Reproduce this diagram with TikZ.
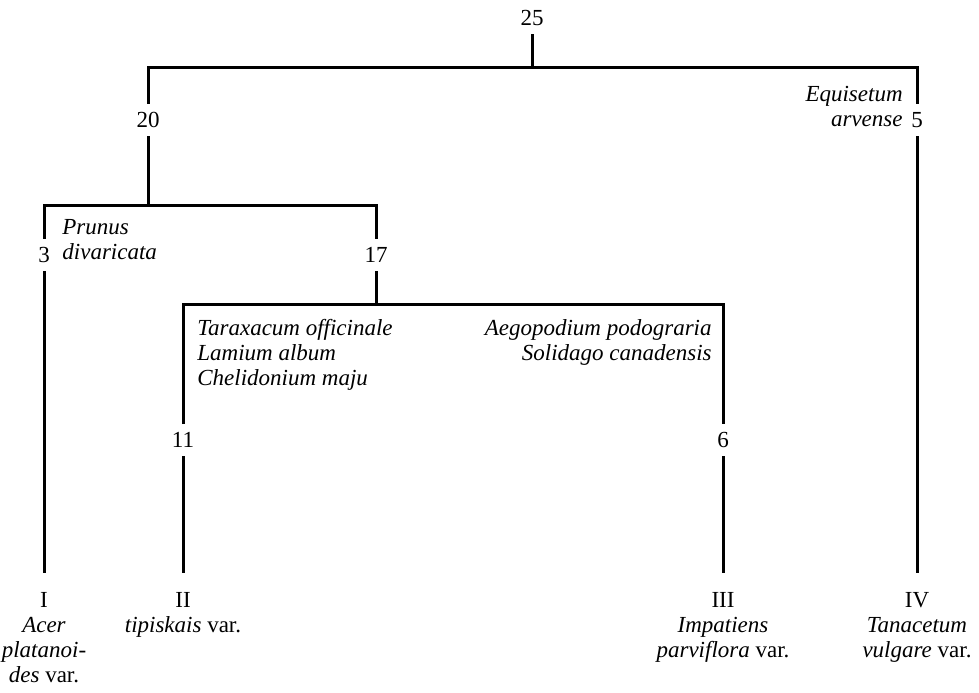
\documentclass[tikz,border=0pt]{standalone}
\usepackage{fontspec}
\setmainfont{Liberation Serif}
\usepackage{tikz}
\usetikzlibrary{positioning}

\begin{document}
\begin{tikzpicture}[
    x=0.5pt, y=-0.5pt,
    count/.style={inner sep=4pt, font=\fontsize{11.5}{12.5}\selectfont},
    leaf/.style={anchor=north, align=center, inner xsep=0pt, inner ysep=9.5pt, font=\fontsize{11.5}{12.5}\selectfont},
    species/.style={inner sep=0pt, font=\fontsize{11.5}{12.5}\selectfont\itshape},
    line/.style={draw, line width=1.5pt}
]
\useasboundingbox (0,0) rectangle (979,692);

% counts
\node [count] (n25) at (532,18) {25};
\node [count] (n20) at (148,120) {20};
\node [count] (n5) at (917,120) {5};
\node [count] (n3) at (44,255) {3};
\node [count] (n17) at (376,255) {17};
\node [count] (n11) at (183,440) {11};
\node [count] (n6) at (723,440) {6};

\coordinate (j25) at (532,67);
\coordinate (j20) at (148,205);
\coordinate (j17) at (376,304);

% groups
\node [leaf] (lI) at (44,573) {I\\\textit{Acer}\\\textit{platanoi-}\\\textit{des} var.};
\node [leaf] (lII) at (183,573) {II\\\textit{tipiskais} var.};
\node [leaf] (lIII) at (723,573) {III\\\textit{Impatiens}\\\textit{parviflora} var.};
\node [leaf] (lIV) at (917,573) {IV\\\textit{Tanacetum}\\\textit{vulgare} var.};

% species split off
\node [species, anchor=north east, align=right] (equisetum) at (903,86) {Equisetum\\arvense\hspace{5.5pt}};
\node [species, anchor=north west, align=left] (prunus) at (62,219) {Prunus\\divaricata};
\node [species, anchor=north west, align=left] (taraxacum) at (197,319) {Taraxacum officinale\\Lamium album\\Chelidonium maju};
\node [species, anchor=north east, align=right] (aegopodium) at (712,319) {Aegopodium podograria\\Solidago canadensis};

\path [line] (n25) -- (j25);
\path [line] (n20) |- (j25) -| (n5);
\path [line] (n20) -- (j20);
\path [line] (n3) |- (j20) -| (n17);
\path [line] (n17) -- (j17);
\path [line] (n11) |- (j17) -| (n6);
\path [line] (n3) -- (lI);
\path [line] (n11) -- (lII);
\path [line] (n6) -- (lIII);
\path [line] (n5) -- (lIV);

\end{tikzpicture}
\end{document}
